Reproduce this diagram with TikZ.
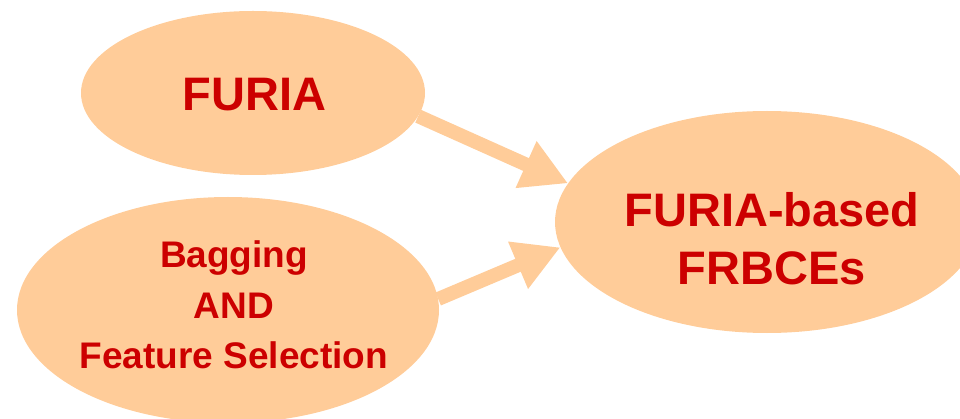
\documentclass[tikz,border=0pt]{standalone}
\usepackage{fontspec}
\setmainfont{Liberation Sans}
\usetikzlibrary{shapes.geometric,arrows.meta}
\definecolor{peach}{HTML}{FFCC99}
\definecolor{redtxt}{HTML}{CC0000}
\tikzset{
  blob/.style={ellipse, fill=peach, draw=none, inner sep=0pt},
  bigtxt/.style={anchor=base, text=redtxt, font=\bfseries\fontsize{47}{56}\selectfont, inner sep=0pt},
  smalltxt/.style={anchor=base, text=redtxt, font=\bfseries\fontsize{37}{44}\selectfont, inner sep=0pt},
  fatarrow/.style={draw=peach, line width=14pt, -{Triangle[length=46pt,width=48pt]}}
}
\begin{document}
\begin{tikzpicture}[x=1pt,y=1pt]
\useasboundingbox (0,0) rectangle (960,-419);
\begin{scope}
\clip (0,0) rectangle (960,-419);
\node[blob, minimum width=344pt, minimum height=164pt] (furia) at (253,-93) {};
\node[blob, minimum width=422pt, minimum height=226pt] (bag) at (228,-310) {};
\node[blob, minimum width=424pt, minimum height=222pt] (frb) at (767,-222) {};
\draw[fatarrow] (furia.-8.6) -- (frb.169.8);
\draw[fatarrow] (bag.3.3) -- (frb.187.2);
\end{scope}
\node[bigtxt] (t1) at (254.5,-111) {FURIA};
\node[bigtxt] (t2) at (772,-227) {FURIA-based};
\node[bigtxt] (t3) at (772,-285) {FRBCEs};
\node[smalltxt] (t4) at (234,-268) {Bagging};
\node[smalltxt] (t5) at (234,-318) {AND};
\node[smalltxt] (t6) at (234,-368) {Feature Selection};
\end{tikzpicture}
\end{document}
